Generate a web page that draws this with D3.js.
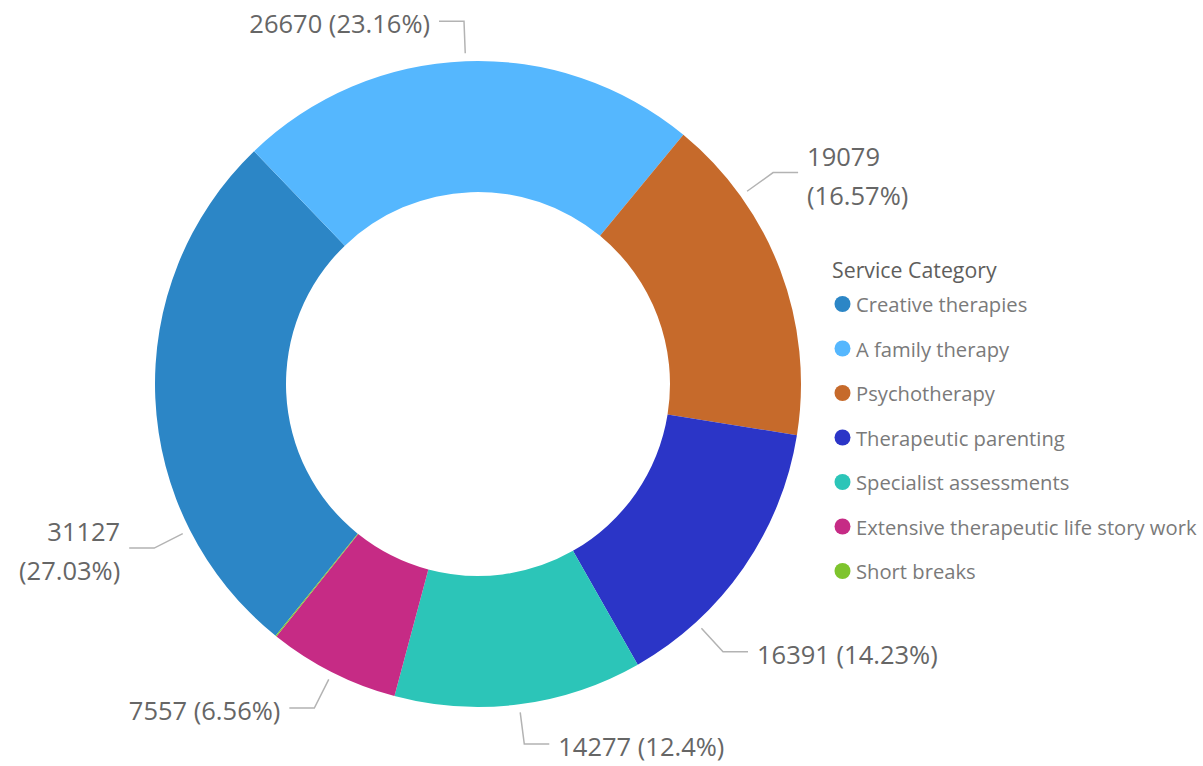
<!DOCTYPE html>
<html>
<head>
<meta charset="utf-8">
<script src="https://cdn.jsdelivr.net/npm/d3@7"></script>
<style>
  html, body { margin: 0; padding: 0; background: #fff; }
  svg { display: block; }
</style>
</head>
<body>
<svg id="chart" width="1203" height="766"></svg>
<script>
// ---- data ----
const categories = [
  "Creative therapies",
  "A family therapy",
  "Psychotherapy",
  "Therapeutic parenting",
  "Specialist assessments",
  "Extensive therapeutic life story work",
  "Short breaks"
];
const values = [31127, 26670, 19079, 16391, 14277, 7557, 60];
const colors = ["#2C86C6", "#55B7FE", "#C66A2B", "#2B35C7", "#2CC5B8", "#C62B85", "#7EC42D"];
const legendTitle = "Service Category";
// label style: whether shown and number of text lines
const labelShown = [true, true, true, true, true, true, false];
const labelLines = [2, 1, 2, 1, 1, 1, 1];
// leader anchor position within slice (fraction of slice sweep)
const labelAnchorFrac = [0.25, 0.5, 0.25, 0.75, 0.5, 0.5, 0.5];

// ---- layout ----
const W = 1203, H = 766;
const cx = 478, cy = 384;
const outerR = 323, innerR = 192;
const startDeg = 218.8;
const fontLabel = "'Segoe UI', 'Open Sans', sans-serif";

const svg = d3.select("#chart");
const total = d3.sum(values);
const data = categories.map((c, i) => ({ name: c, value: values[i], color: colors[i], i }));

const pie = d3.pie()
  .value(d => d.value)
  .sort(null)
  .startAngle(startDeg * Math.PI / 180)
  .endAngle(startDeg * Math.PI / 180 + 2 * Math.PI);

const arc = d3.arc().innerRadius(innerR).outerRadius(outerR);
const arcs = pie(data);

const g = svg.append("g").attr("transform", `translate(${cx},${cy})`);
g.selectAll("path.slice")
  .data(arcs)
  .join("path")
  .attr("class", "slice")
  .attr("d", arc)
  .attr("fill", d => d.data.color);

function fmtPct(v) {
  const p = v / total * 100;
  return (Math.round(p * 100) / 100).toString() + "%";
}

const pt = (a, r) => [Math.sin(a) * r, -Math.cos(a) * r];
const labelG = g.append("g");
arcs.forEach((d, i) => {
  if (!labelShown[i]) return;
  const a = d.startAngle + (d.endAngle - d.startAngle) * labelAnchorFrac[i];
  const right = Math.sin(a) >= 0;
  const p0 = pt(a, outerR + 8);
  const p1 = pt(a, outerR + 40);
  const p2 = [p1[0] + (right ? 25 : -25), p1[1]];
  labelG.append("polyline")
    .attr("points", [p0, p1, p2].map(p => p.join(",")).join(" "))
    .attr("fill", "none")
    .attr("stroke", "#B3B3B3")
    .attr("stroke-width", 1.5);
  const tx = p2[0] + (right ? 9 : -9);
  const t = labelG.append("text")
    .attr("x", tx)
    .attr("text-anchor", right ? "start" : "end")
    .attr("font-family", fontLabel)
    .attr("font-size", 25.5)
    .attr("fill", "#666666")
    .attr("dominant-baseline", "central");
  const vTxt = String(d.data.value);
  const pTxt = "(" + fmtPct(d.data.value) + ")";
  if (labelLines[i] === 2) {
    t.append("tspan").attr("x", tx).attr("y", p1[1] - 17).text(vTxt);
    t.append("tspan").attr("x", tx).attr("y", p1[1] + 22).text(pTxt);
  } else {
    t.attr("y", p1[1] + 2).text(vTxt + " " + pTxt);
  }
});

// ---- legend ----
const lg = svg.append("g").attr("transform", "translate(832,269)");
lg.append("text")
  .attr("x", 0).attr("y", 0)
  .attr("dominant-baseline", "central")
  .attr("font-family", fontLabel)
  .attr("font-size", 21.3)
  .attr("fill", "#605E5C")
  .text(legendTitle);
const items = lg.selectAll("g.item")
  .data(data)
  .join("g")
  .attr("class", "item")
  .attr("transform", (d, i) => `translate(0,${35 + i * 44.5})`);
items.append("circle")
  .attr("cx", 10.5).attr("cy", 0).attr("r", 8)
  .attr("fill", d => d.color);
items.append("text")
  .attr("x", 24).attr("y", 0)
  .attr("dominant-baseline", "central")
  .attr("font-family", fontLabel)
  .attr("font-size", 20.2)
  .attr("fill", "#7A7A7A")
  .text(d => d.name);
</script>
</body>
</html>
